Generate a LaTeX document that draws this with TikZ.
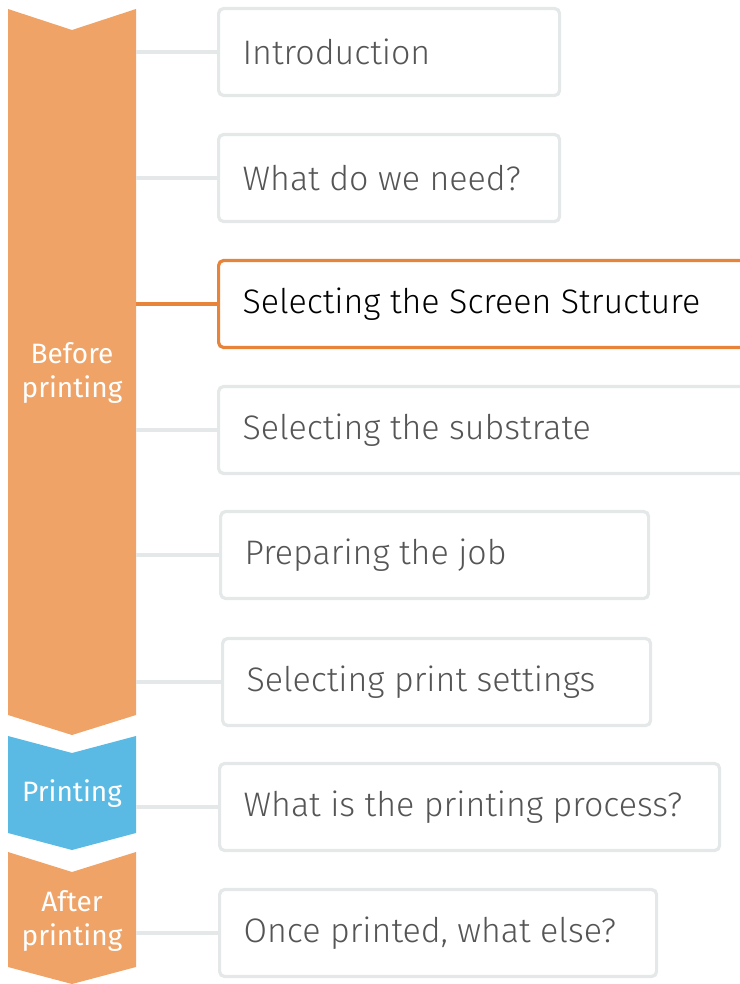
\documentclass[tikz,border=0pt]{standalone}
\usepackage{fontspec}
\setmainfont{Fira Sans}
\newfontfamily\lightfont{Fira Sans Light}
\definecolor{chevorange}{HTML}{EFA367}
\definecolor{chevblue}{HTML}{5BBAE3}
\definecolor{hiorange}{HTML}{E8833A}
\definecolor{boxgray}{HTML}{E4E8E8}
\definecolor{txtgray}{HTML}{555555}
\newcommand{\boxtxt}[2]{\makebox[#1][l]{#2}}
\tikzset{
  boxnode/.style={draw=boxgray, line width=3.2pt, rounded corners=5pt, fill=white,
    minimum height=87pt, anchor=west, inner xsep=24pt,
    font=\lightfont\fontsize{34}{40}\selectfont, text=txtgray},
  hibox/.style={draw=hiorange, text=black},
  conn/.style={draw=boxgray, line width=3.2pt},
  hiconn/.style={draw=hiorange, line width=3.2pt},
  chevlabel/.style={text=white, align=center, font=\fontsize{28}{34}\selectfont, inner sep=0pt}
}
\begin{document}
\begin{tikzpicture}[x=1pt,y=-1pt]
\useasboundingbox (0,0) rectangle (739,984);
% chevrons
\fill[chevorange] (8,9) -- (72,30) -- (136,9) -- (136,715) -- (72,735) -- (8,715) -- cycle;
\fill[chevblue] (8,736) -- (72,753) -- (136,736) -- (136,833) -- (72,850) -- (8,833) -- cycle;
\fill[chevorange] (8,852) -- (72,872) -- (136,852) -- (136,967) -- (72,984) -- (8,967) -- cycle;
\node[chevlabel] (lbefore) at (72,373) {Before\\printing};
\node[chevlabel] (lprint) at (72,794) {Printing};
\node[chevlabel] (lafter) at (72,921) {After\\printing};
% connector start points
\coordinate (s1) at (136,52);
\coordinate (s2) at (136,178);
\coordinate (s3) at (136,304);
\coordinate (s4) at (136,430);
\coordinate (s5) at (136,555);
\coordinate (s6) at (136,682);
\coordinate (s7) at (136,807);
\coordinate (s8) at (136,933);
% boxes
\node[boxnode] (b1) at (217,52) {\boxtxt{293pt}{Introduction}};
\node[boxnode] (b2) at (217,178) {\boxtxt{293pt}{What do we need?}};
\node[boxnode, hibox] (b3) at (217,304) {\boxtxt{492pt}{Selecting the Screen Structure}};
\node[boxnode] (b4) at (217,430) {\boxtxt{492pt}{Selecting the substrate}};
\node[boxnode] (b5) at (219,555) {\boxtxt{380pt}{Preparing the job}};
\node[boxnode] (b6) at (221,682) {\boxtxt{380pt}{Selecting print settings}};
\node[boxnode] (b7) at (218,807) {\boxtxt{452pt}{What is the printing process?}};
\node[boxnode] (b8) at (218,933) {\boxtxt{389pt}{Once printed, what else?}};
% connectors
\draw[conn] (s1) -- (b1.west);
\draw[conn] (s2) -- (b2.west);
\draw[hiconn] (s3) -- (b3.west);
\draw[conn] (s4) -- (b4.west);
\draw[conn] (s5) -- (b5.west);
\draw[conn] (s6) -- (b6.west);
\draw[conn] (s7) -- (b7.west);
\draw[conn] (s8) -- (b8.west);
\end{tikzpicture}
\end{document}
